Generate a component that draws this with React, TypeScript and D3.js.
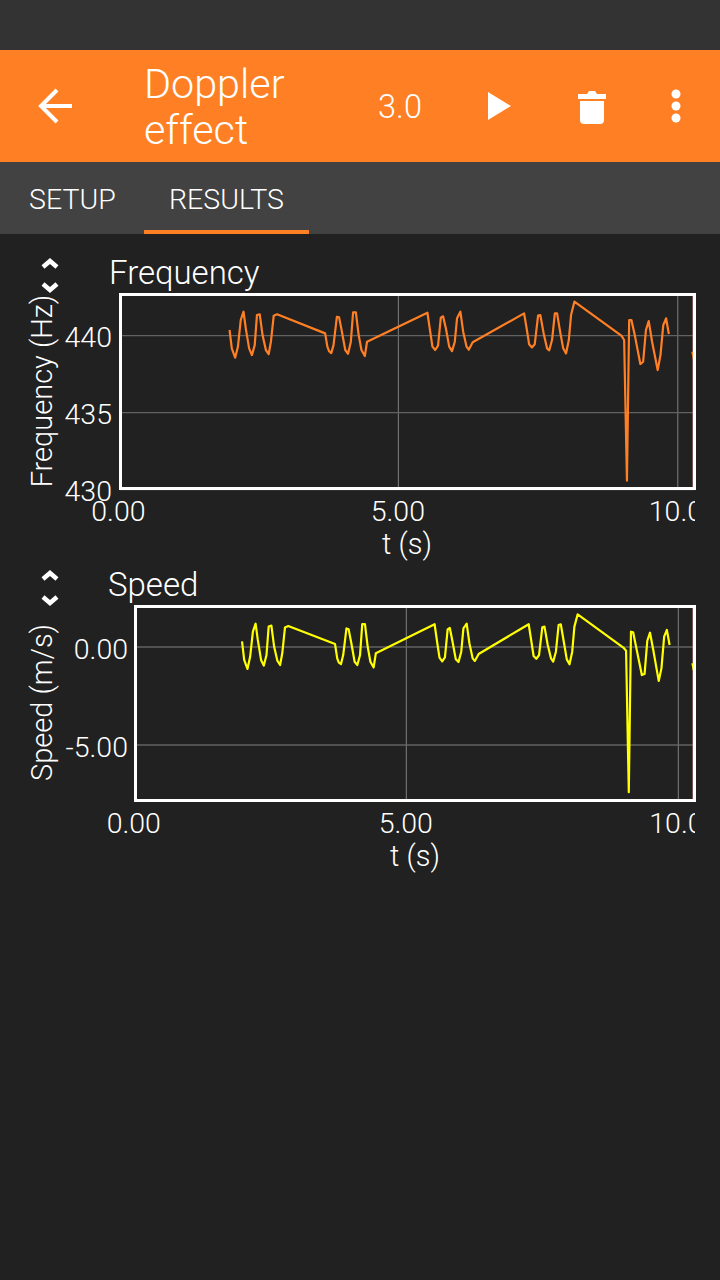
import * as d3 from 'd3';

const FONT = 'Roboto, sans-serif';
const WEIGHT = 300;
const ORANGE = '#ff7f24';

// sample times (s), null marks the gap before the last run
const times = [
  1.98, 2.02, 2.08, 2.13, 2.18, 2.23, 2.27, 2.33, 2.38, 2.43, 2.47, 2.52, 2.57, 2.63, 2.68, 2.72, 2.77, 2.83,
  3.69, 3.73, 3.76, 3.8, 3.84, 3.9, 3.94, 3.99, 4.05, 4.1, 4.15, 4.19, 4.24, 4.29, 4.34, 4.4, 4.44,
  5.52, 5.57, 5.61, 5.66, 5.71, 5.76, 5.8, 5.85, 5.91, 5.96, 6.01, 6.05, 6.11, 6.16, 6.22, 6.26, 6.33,
  7.25, 7.3, 7.34, 7.39, 7.44, 7.5, 7.54, 7.6, 7.66, 7.7, 7.75, 7.8, 7.84, 7.9, 7.95, 8.0, 8.05, 8.09, 8.15,
  8.99, 9.04, 9.09, 9.13, 9.17, 9.23, 9.33, 9.38, 9.43, 9.48, 9.54, 9.64, 9.69, 9.74, 9.79, 9.84,
  null, 10.26, 10.31,
];

const frequency = [
  440.37, 439.18, 438.57, 439.29, 441.02, 441.56, 440.48, 439.18, 438.74, 439.39, 441.34, 441.39, 440.04, 439.07, 438.81, 439.61, 441.3, 441.39,
  440.15, 439.29, 439.0, 438.87, 439.39, 441.23, 441.19, 440.26, 439.07, 438.83, 439.61, 441.52, 441.52, 440.04, 439.07, 438.68, 439.61,
  441.49, 440.26, 439.29, 439.07, 439.35, 441.17, 441.26, 440.48, 439.29, 439.0, 439.61, 441.13, 441.56, 440.26, 439.29, 439.09, 439.57,
  441.45, 440.37, 439.44, 439.24, 439.44, 441.3, 441.34, 440.15, 439.18, 439.05, 439.72, 441.45, 441.45, 440.15, 439.18, 438.85, 439.72, 441.34, 442.21,
  440.0, 439.72, 430.58, 441.02, 441.02, 440.04, 438.16, 438.31, 440.37, 440.95, 439.61, 437.77, 438.74, 440.69, 441.13, 440.11,
  null, 438.96, 438.1,
];

const speed = [
  0.29, -0.66, -1.12, -0.49, 0.78, 1.19, 0.36, -0.66, -0.95, -0.41, 1.04, 1.09, 0.02, -0.7, -0.92, -0.32, 1.0, 1.07,
  0.15, -0.58, -0.8, -0.87, -0.41, 0.95, 0.9, 0.19, -0.75, -0.92, -0.41, 1.17, 1.17, 0.02, -0.75, -1.04, -0.32,
  1.16, 0.19, -0.54, -0.73, -0.53, 0.9, 0.97, 0.27, -0.63, -0.77, -0.24, 0.95, 1.19, 0.19, -0.58, -0.71, -0.36,
  1.16, 0.27, -0.46, -0.6, -0.41, 1.0, 1.04, 0.1, -0.58, -0.75, -0.24, 1.12, 1.16, 0.19, -0.63, -0.88, -0.24, 1.04, 1.67,
  -0.03, -0.19, -7.41, 0.78, 0.75, -0.07, -1.43, -1.38, 0.32, 0.73, -0.15, -1.73, -1.09, 0.53, 0.87, 0.1,
  null, -0.83, -1.51,
];

const xTicks = [0, 5, 10];
const freqTicks = [430, 435, 440];
const speedTicks = [-5, 0];

const Chevrons = ({ x, y1, y2 }: { x: number; y1: number; y2: number }) => (
  <g fill="none" stroke="#fff" strokeWidth={4.5}>
    <path d={`M${x - 7},${y1 + 6} L${x},${y1} L${x + 7},${y1 + 6}`} />
    <path d={`M${x - 7},${y2 - 6} L${x},${y2} L${x + 7},${y2 - 6}`} />
  </g>
);

interface PanelProps {
  id: string;
  title: string;
  titleX: number;
  yLabel: string;
  yLabelCy: number;
  values: (number | null)[];
  color: string;
  frame: { left: number; right: number; top: number; bottom: number };
  x: d3.ScaleLinear<number, number>;
  y: d3.ScaleLinear<number, number>;
  yTicks: number[];
  yFormat: (v: number) => string;
  yLabelRight: number;
  tLabelX: number;
}

const Panel = (p: PanelProps) => {
  const { frame: f, x, y } = p;
  const rows = times.map((t, i) => ({ t, v: p.values[i] }));
  const line = d3
    .line<{ t: number | null; v: number | null }>()
    .defined((d) => d.t != null && d.v != null)
    .x((d) => x(d.t as number))
    .y((d) => y(d.v as number));

  return (
    <g fontFamily={FONT} fontWeight={WEIGHT} fill="#fff">
      <clipPath id={`${p.id}-plot`}>
        <rect x={f.left} y={f.top} width={f.right - f.left} height={f.bottom - f.top} />
      </clipPath>
      <clipPath id={`${p.id}-labels`}>
        <rect x={0} y={f.bottom} width={695} height={80} />
      </clipPath>

      <text x={p.titleX - 1} y={f.top - 11} fontSize={33}>{p.title}</text>
      <text
        transform={`translate(52,${p.yLabelCy}) rotate(-90)`}
        textAnchor="middle"
        fontSize={29}
      >
        {p.yLabel}
      </text>

      {xTicks.slice(1).map((t) => (
        <line key={t} x1={x(t)} x2={x(t)} y1={f.top} y2={f.bottom} stroke="#808080" strokeWidth={1} />
      ))}
      {p.yTicks.map((v) => (
        <line key={v} x1={f.left} x2={f.right} y1={y(v)} y2={y(v)} stroke="#626262" strokeWidth={1.3} />
      ))}

      <g clipPath={`url(#${p.id}-plot)`}>
        <line x1={f.right - 1.5} x2={f.right - 1.5} y1={f.top} y2={f.bottom} stroke="#c98a8a" strokeWidth={1} />
        <path
          d={line(rows) ?? undefined}
          fill="none"
          stroke={p.color}
          strokeWidth={2.2}
          strokeLinejoin="round"
        />
      </g>

      <rect
        x={f.left}
        y={f.top}
        width={f.right - f.left}
        height={f.bottom - f.top}
        fill="none"
        stroke="#fff"
        strokeWidth={3}
      />

      {p.yTicks.map((v) => (
        <text key={v} x={p.yLabelRight} y={y(v) + 11.5} textAnchor="end" fontSize={28.5}>
          {p.yFormat(v)}
        </text>
      ))}
      <g clipPath={`url(#${p.id}-labels)`}>
        {xTicks.map((t) => (
          <text
            key={t}
            x={t === 10 ? x(t) + 6 : x(t) - 0.5}
            y={f.bottom + 32}
            textAnchor="middle"
            fontSize={28.5}
          >
            {d3.format('.2f')(t)}
          </text>
        ))}
      </g>
      <text x={p.tLabelX} y={f.bottom + 65} textAnchor="middle" fontSize={29}>t (s)</text>
    </g>
  );
};

export default function App() {
  const freqX = d3.scaleLinear().domain([0, 10]).range([118.9, 677.8]);
  const freqY = d3.scaleLinear().domain([430, 440]).range([489.7, 335.7]);
  const speedX = d3.scaleLinear().domain([0, 10]).range([134.3, 678.3]);
  const speedY = d3.scaleLinear().domain([-5, 0]).range([745, 647]);

  return (
    <svg
      width={720}
      height={1280}
      viewBox="0 0 720 1280"
      style={{ position: 'absolute', left: 0, top: 0, display: 'block' }}
    >
      <rect width={720} height={1280} fill="#212121" />
      <rect width={720} height={50} fill="#333" />
      <rect y={50} width={720} height={112} fill={ORANGE} />
      <rect y={162} width={720} height={72} fill="#424242" />
      <rect x={144} y={230} width={165} height={4} fill={ORANGE} />

      {/* toolbar */}
      <path d="M72,106 L42,106 M57,90 L41,106 L57,122" fill="none" stroke="#fff" strokeWidth={4} />
      <g fontFamily={FONT} fontWeight={WEIGHT} fill="#fff">
        <text x={144} y={98} fontSize={41.3}>Doppler</text>
        <text x={144} y={144} fontSize={41.3}>effect</text>
        <text x={400} y={118} fontSize={32.5} textAnchor="middle">3.0</text>
        <text x={29} y={209} fontSize={28.5}>SETUP</text>
        <text x={169} y={209} fontSize={28.5}>RESULTS</text>
      </g>
      <path d="M488,92 L511,106 L488,120 Z" fill="#fff" />
      <path
        d="M578,94 L587,94 L589,91 L595,91 L597,94 L606,94 L606,99 L578,99 Z M580,101 L604,101 L604,120 Q604,124 600,124 L584,124 Q580,124 580,120 Z"
        fill="#fff"
      />
      <circle cx={676} cy={94} r={4.5} fill="#fff" />
      <circle cx={676} cy={106} r={4.5} fill="#fff" />
      <circle cx={676} cy={118} r={4.5} fill="#fff" />

      <Chevrons x={50} y1={261} y2={290} />
      <Panel
        id="freq"
        title="Frequency"
        titleX={110}
        yLabel="Frequency (Hz)"
        yLabelCy={391}
        values={frequency}
        color={ORANGE}
        frame={{ left: 120.5, right: 694.5, top: 294.5, bottom: 488.5 }}
        x={freqX}
        y={freqY}
        yTicks={freqTicks}
        yFormat={(v) => String(v)}
        yLabelRight={112}
        tLabelX={407}
      />

      <Chevrons x={50} y1={573} y2={603} />
      <Panel
        id="speed"
        title="Speed"
        titleX={109}
        yLabel="Speed (m/s)"
        yLabelCy={702.5}
        values={speed}
        color="#ffff00"
        frame={{ left: 135.5, right: 694.5, top: 606.5, bottom: 800.5 }}
        x={speedX}
        y={speedY}
        yTicks={speedTicks}
        yFormat={(v) => (v < 0 ? `-${d3.format('.2f')(-v)}` : d3.format('.2f')(v))}
        yLabelRight={128}
        tLabelX={415}
      />
    </svg>
  );
}
